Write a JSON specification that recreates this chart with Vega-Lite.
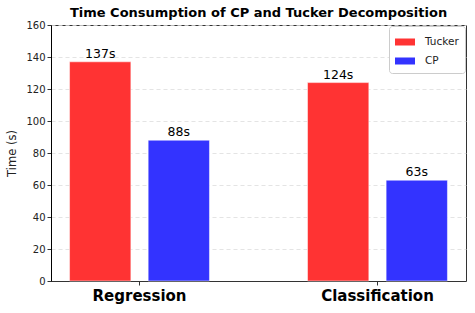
{
  "$schema": "https://vega.github.io/schema/vega-lite/v6.json",
  "width": 415,
  "height": 256,
  "autosize": "none",
  "padding": {"left": 51, "top": 25, "right": 9, "bottom": 32},
  "background": "white",
  "config": {
    "font": "DejaVu Sans",
    "view": {"stroke": "#333", "strokeWidth": 1}
  },
  "title": {
    "text": "Time Consumption of CP and Tucker Decomposition",
    "fontSize": 13,
    "fontWeight": "bold",
    "color": "#000",
    "anchor": "middle",
    "offset": 0,
    "font": "DejaVu Sans"
  },
  "data": {
    "values": [
      {"task": "Regression", "method": "Tucker", "time": 137, "label": "137s"},
      {"task": "Regression", "method": "CP", "time": 88, "label": "88s"},
      {"task": "Classification", "method": "Tucker", "time": 124, "label": "124s"},
      {"task": "Classification", "method": "CP", "time": 63, "label": "63s"}
    ]
  },
  "encoding": {
    "x": {
      "field": "task",
      "type": "nominal",
      "sort": ["Regression", "Classification"],
      "scale": {"paddingInner": 0.412, "paddingOuter": 0.078},
      "axis": {
        "title": null,
        "labelAngle": 0,
        "labelFontSize": 15,
        "labelFontWeight": "bold",
        "labelColor": "#000",
        "labelPadding": 3,
        "tickSize": 4,
        "tickColor": "#333",
        "domainColor": "#333",
        "grid": false
      }
    },
    "xOffset": {
      "field": "method",
      "type": "nominal",
      "sort": ["Tucker", "CP"],
      "scale": {"paddingInner": 0.22, "paddingOuter": 0}
    },
    "y": {
      "field": "time",
      "type": "quantitative",
      "scale": {"domain": [0, 160], "nice": false},
      "axis": {
        "title": "Time (s)",
        "titleFontSize": 11.5,
        "titleFontWeight": "normal",
        "titleColor": "#222",
        "titlePadding": 8,
        "values": [0, 20, 40, 60, 80, 100, 120, 140, 160],
        "labelFontSize": 10,
        "labelColor": "#222",
        "labelPadding": 2,
        "tickSize": 4,
        "tickColor": "#333",
        "domainColor": "#000",
        "grid": true,
        "gridColor": "#ddd",
        "gridDash": [4, 3],
        "gridOpacity": 0.8
      }
    }
  },
  "layer": [
    {
      "mark": {"type": "bar", "stroke": "#ffffff", "strokeOpacity": 0.5, "strokeWidth": 1},
      "encoding": {
        "color": {
          "field": "method",
          "type": "nominal",
          "scale": {"domain": ["Tucker", "CP"], "range": ["#ff3333", "#3333ff"]},
          "legend": {
            "title": null,
            "orient": "top-right",
            "offset": 1,
            "fillColor": "white",
            "strokeColor": "#ccc",
            "cornerRadius": 3,
            "padding": 6,
            "labelFontSize": 10.5,
            "labelColor": "#222",
            "symbolType": "M-1,-0.35L1,-0.35L1,0.35L-1,0.35Z",
            "symbolSize": 400,
            "symbolStrokeWidth": 0,
            "symbolOpacity": 1,
            "rowPadding": 3,
            "labelOffset": 10
          }
        }
      }
    },
    {
      "mark": {"type": "text", "dy": -8, "fontSize": 12.5, "color": "#000"},
      "encoding": {
        "text": {"field": "label"}
      }
    }
  ]
}
